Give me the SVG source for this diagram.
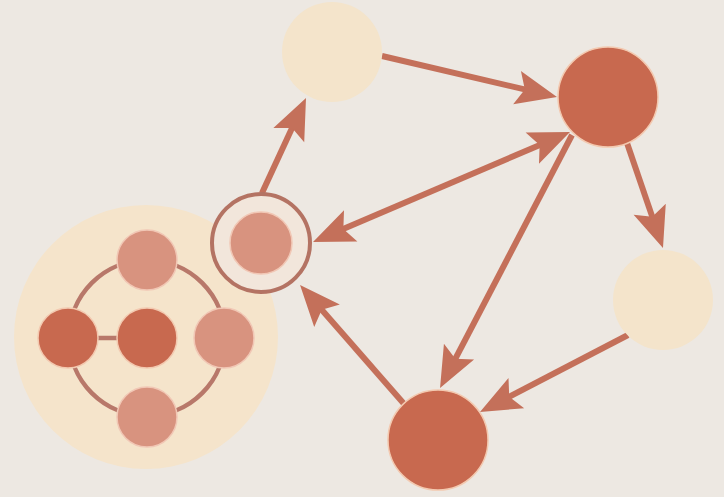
<svg xmlns="http://www.w3.org/2000/svg" width="724" height="497" viewBox="0 0 724 497">
  <defs>
    <marker id="head" markerUnits="userSpaceOnUse" markerWidth="44" markerHeight="36" viewBox="0 0 42 36" refX="21" refY="18" orient="auto-start-reverse">
      <path d="M0,1 L41,18 L0,35 L8,18 Z" fill="#c4705a"/>
    </marker>
  </defs>
  <style>
    .edge { stroke: #c4705a; stroke-width: 6; fill: none; marker-end: url(#head); }
    .pale { fill: #f4e4cb; }
    .dark { fill: #c8694f; stroke: #f3c9b0; stroke-width: 1.5; }
    .mid { fill: #d8937f; stroke: #f1c7b5; stroke-width: 1.5; }
    .link { stroke: #b8786a; stroke-width: 4.5; fill: none; }
  </style>
  <rect width="724" height="497" fill="#ede8e2"/>

  <!-- cluster: ring of four nodes around a hub -->
  <g id="cluster">
    <circle cx="146" cy="337" r="132" fill="#f5e4cb"/>
    <circle class="link" cx="147" cy="338" r="78"/>
    <line class="link" x1="68" y1="338" x2="147" y2="338" stroke-width="5"/>
    <circle class="mid" cx="147" cy="260" r="30"/>
    <circle class="dark" cx="68" cy="338" r="30"/>
    <circle class="dark" cx="147" cy="338" r="30" fill="#c4654c"/>
    <circle class="mid" cx="224" cy="338" r="30"/>
    <circle class="mid" cx="147" cy="417" r="30"/>
  </g>

  <g id="connectors">
    <line class="edge" x1="382" y1="56" x2="537.5" y2="92.4"/>
    <line class="edge" x1="262" y1="193" x2="297.6" y2="116.1"/>
    <line class="edge" x1="331.4" y1="234.1" x2="551.6" y2="139.9" marker-start="url(#head)"/>
    <line class="edge" x1="572" y1="135" x2="449.3" y2="370.3"/>
    <line class="edge" x1="627" y1="143" x2="656.5" y2="229.1"/>
    <line class="edge" x1="628" y1="335" x2="497.7" y2="402.8"/>
    <line class="edge" x1="405" y1="405" x2="313.2" y2="300"/>
  </g>

  <g id="focus">
    <circle cx="261" cy="243" r="49" fill="#f2e6db" stroke="#b47363" stroke-width="4"/>
    <circle class="mid" cx="261" cy="243" r="31"/>
  </g>
  <g id="top"><circle class="pale" cx="332" cy="52" r="50"/></g>
  <g id="hub-right"><circle class="dark" cx="608" cy="97" r="50"/></g>
  <g id="side"><circle class="pale" cx="663" cy="300" r="50"/></g>
  <g id="bottom"><circle class="dark" cx="438" cy="440" r="50"/></g>
</svg>
